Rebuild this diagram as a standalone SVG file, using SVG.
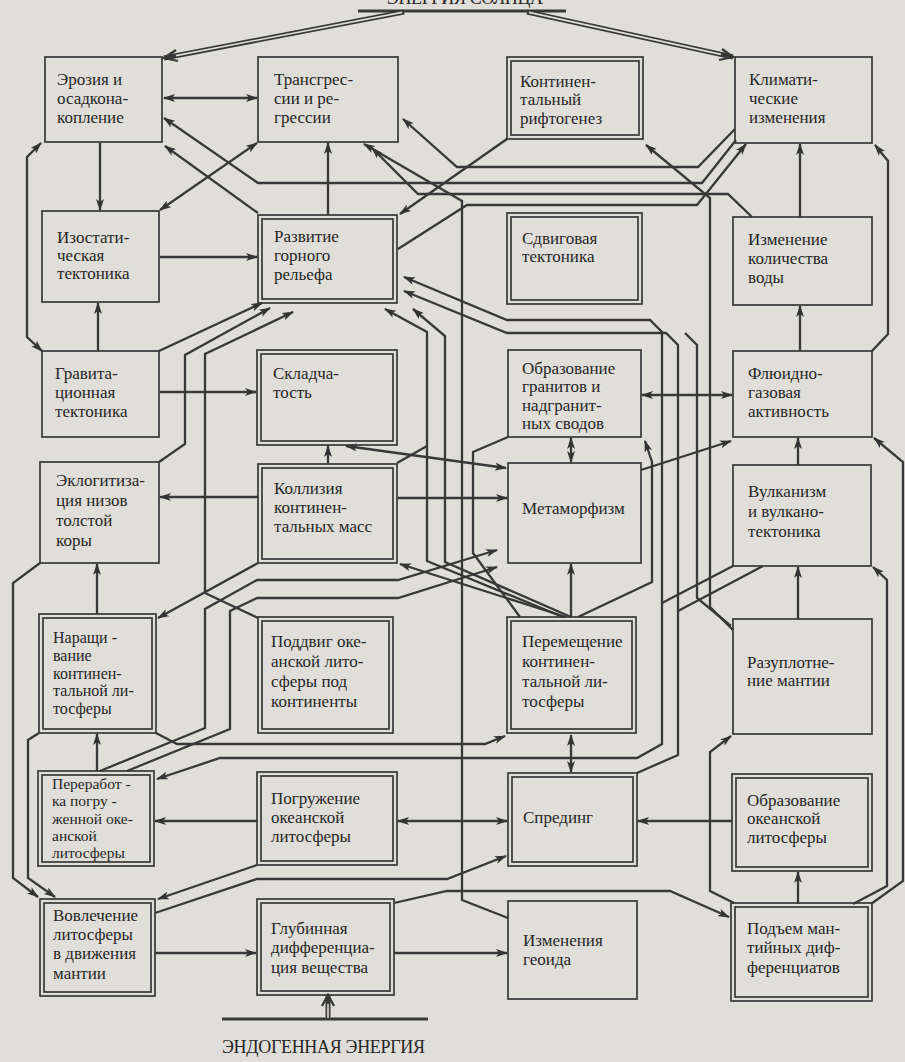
<svg xmlns="http://www.w3.org/2000/svg" width="905" height="1062" viewBox="0 0 905 1062" font-family="'Liberation Serif','DejaVu Serif',serif">
<defs>
<marker id="ah" viewBox="0 0 12 8" refX="11" refY="4" markerWidth="12" markerHeight="8" markerUnits="userSpaceOnUse" orient="auto-start-reverse"><path d="M0,0 L12,4 L0,8 L3,4 z" fill="#333"/></marker>
</defs>
<style>
.bg{fill:#e0ded9}
.bx{fill:none;stroke:#383838;stroke-width:1.7}
.t{font-family:'Liberation Serif','DejaVu Serif',serif;font-size:17px;fill:#262626}
.c{fill:none;stroke:#383838;stroke-width:2.3;stroke-linejoin:miter}
.e{marker-end:url(#ah)}
.s{marker-start:url(#ah)}
.dk{fill:none;stroke:#383838;stroke-width:5}
.dl{fill:none;stroke:#e0ded9;stroke-width:1.6}
.cap{font-family:'Liberation Serif','DejaVu Serif',serif;font-size:18px;fill:#262626}
</style>
<rect class="bg" x="0" y="0" width="905" height="1062"/>

<g id="sun">
<text class="cap" x="387" y="4" textLength="156">ЭНЕРГИЯ СОЛНЦА</text>
<line x1="358" y1="11" x2="566" y2="11" stroke="#383838" stroke-width="3"/>
</g>
<g id="endo">
<line x1="222" y1="1019" x2="428" y2="1019" stroke="#383838" stroke-width="3"/>
<text class="cap" x="222" y="1053" textLength="203">ЭНДОГЕННАЯ ЭНЕРГИЯ</text>
</g>

<g id="connectors">
<path class="dk" d="M404,12 L164,58"/><path class="dl" d="M402,12.4 L176,55.6"/><path class="c" d="M178,61 L164,58 L176,50"/>
<path class="dk" d="M527,12 L733,57"/><path class="dl" d="M529,12.4 L721,54.4"/><path class="c" d="M719,60 L733,57 L722,49"/>
<path class="dk" d="M328,1018 V996"/><path class="dl" d="M328,1018 V1004"/><path class="c" d="M322,1006 L328,995 L334,1006"/>

<path class="c s e" d="M164,98 H257"/>
<path class="c e" d="M100,143 V210"/>
<path class="c s e" d="M160,210 L257,143"/>
<path class="c e" d="M258,213 L165,146"/>
<path class="c e" d="M160,257 H257"/>
<path class="c e" d="M98,351 V303"/>
<path class="c e" d="M160,392 H256"/>
<path class="c s e" d="M42,351 L27,337 V157 L41,143"/>
<path class="c e" d="M328,215 V143"/>
<path class="c e" d="M507,139 L400,214"/>
<path class="c e" d="M736,140 L702,183 H258 L164,118"/>
<path class="c e" d="M735,129 L698,167 H457 L403,119"/>
<path class="c e" d="M752,217 L728,194 H418 L372,148"/>
<path class="c e" d="M508,918 L462,900 V201 L364,144"/>
<path class="c e" d="M398,249 L467,205 H697 L746,144"/>
<path class="c e" d="M733,630 L710,607 V198 L646,145"/>
<path class="c e" d="M800,217 V144"/>
<path class="c e" d="M800,351 V306"/>
<path class="c e" d="M872,351 L888,334 V161 L875,145"/>
<path class="c e" d="M871,904 L903,881 V462 L874,438"/>
<path class="c e" d="M853,904 L887,886 V580 L873,567"/>
<path class="c e" d="M798,465 V438"/>
<path class="c e" d="M798,619 V567"/>
<path class="c e" d="M798,904 V872"/>
<path class="c e" d="M732,821 H638"/>
<path class="c e" d="M734,903 L710,891 V752 L731,736"/>
<path class="c s e" d="M642,395 H732"/>
<path class="c s e" d="M571,438 V462"/>
<path class="c s e" d="M346,446 L506,468"/>
<path class="c e" d="M328,463 V446"/>
<path class="c e" d="M258,497 H160"/>
<path class="c e" d="M398,498 H507"/>
<path class="c" d="M397,463 L427,446"/>
<path class="c e" d="M563,617 L427,561 V332 L385,309"/>
<path class="c e" d="M571,617 L445,562 V336 L413,309"/>
<path class="c e" d="M566,617 L400,564"/>
<path class="c e" d="M578,617 L652,582 V462 L645,441"/>
<path class="c" d="M508,437 L473,452 V553 L520,617"/>
<path class="c e" d="M159,351 L262,303"/>
<path class="c e" d="M159,462 L185,444 V355 L270,308"/>
<path class="c e" d="M258,618 L205,593 V354 L293,312"/>
<path class="c e" d="M641,470 L731,441"/>
<path class="c e" d="M571,617 V564"/>
<path class="c s e" d="M571,772 V735"/>
<path class="c s e" d="M398,821 H507"/>
<path class="c e" d="M257,821 H155"/>
<path class="c e" d="M257,865 L158,899"/>
<path class="c e" d="M155,953 H256"/>
<path class="c e" d="M394,953 H507"/>
<path class="c e" d="M394,903 L447,891 H670 L729,917"/>
<path class="c e" d="M155,913 L257,879 H447 L506,856"/>
<path class="c e" d="M97,771 V734"/>
<path class="c e" d="M97,614 V564"/>
<path class="c e" d="M40,563 L13,583 V878 L38,897"/>
<path class="c e" d="M39,733 L28,740 V878 L55,897"/>
<path class="c e" d="M258,563 L158,618"/>
<path class="c e" d="M156,733 L177,744 H485 L505,736"/>
<path class="c s e" d="M157,779 L220,758 H637 L662,744 V332 L650,320 H507 L404,277"/>
<path class="c" d="M662,603 L733,566"/>
<path class="c e" d="M637,773 L678,755 V345 L666,333 H507 L404,291"/>
<path class="c" d="M678,611 L763,566"/>
<path class="c" d="M731,626 L697,598 V345 L685,333"/>
<path class="c e" d="M100,771 L205,728 V609 L257,580 H398 L497,550"/>
<path class="c e" d="M127,771 L230,729 V611 L257,598 H398 L497,567"/>
</g>

<g id="n1"><rect class="bx" x="45" y="57" width="117" height="85"/><text class="t"><tspan x="57" y="85">Эрозия и</tspan><tspan x="57" y="104">осадкона-</tspan><tspan x="57" y="123">копление</tspan></text></g>
<g id="n2"><rect class="bx" x="258" y="57" width="140" height="85"/><text class="t"><tspan x="274" y="85">Трансгрес-</tspan><tspan x="274" y="104">сии и ре-</tspan><tspan x="274" y="123">грессии</tspan></text></g>
<g id="n3"><rect class="bx" x="507" y="57" width="136" height="82"/><rect class="bx" x="511" y="61" width="128" height="74"/><text class="t"><tspan x="520" y="87">Континен-</tspan><tspan x="520" y="105">тальный</tspan><tspan x="520" y="124">рифтогенез</tspan></text></g>
<g id="n4"><rect class="bx" x="735" y="57" width="137" height="86"/><text class="t"><tspan x="749" y="85">Климати-</tspan><tspan x="749" y="104">ческие</tspan><tspan x="749" y="123">изменения</tspan></text></g>

<g id="n5"><rect class="bx" x="42" y="211" width="117" height="91"/><text class="t"><tspan x="57" y="243">Изостати-</tspan><tspan x="57" y="261">ческая</tspan><tspan x="57" y="279">тектоника</tspan></text></g>
<g id="n6"><rect class="bx" x="258" y="215" width="139" height="88"/><rect class="bx" x="262" y="219" width="131" height="80"/><text class="t"><tspan x="274" y="242">Развитие</tspan><tspan x="274" y="261">горного</tspan><tspan x="274" y="280">рельефа</tspan></text></g>
<g id="n7"><rect class="bx" x="507" y="213" width="135" height="91"/><rect class="bx" x="511" y="217" width="127" height="83"/><text class="t"><tspan x="522" y="244">Сдвиговая</tspan><tspan x="522" y="262">тектоника</tspan></text></g>
<g id="n8"><rect class="bx" x="733" y="217" width="139" height="88"/><text class="t"><tspan x="748" y="245">Изменение</tspan><tspan x="748" y="264">количества</tspan><tspan x="748" y="283">воды</tspan></text></g>

<g id="n9"><rect class="bx" x="42" y="351" width="117" height="86"/><text class="t"><tspan x="55" y="379">Гравита-</tspan><tspan x="55" y="398">ционная</tspan><tspan x="55" y="417">тектоника</tspan></text></g>
<g id="n10"><rect class="bx" x="257" y="350" width="140" height="95"/><rect class="bx" x="261" y="354" width="132" height="87"/><text class="t"><tspan x="273" y="379">Складча-</tspan><tspan x="273" y="398">тость</tspan></text></g>
<g id="n11"><rect class="bx" x="508" y="350" width="133" height="87"/><text class="t"><tspan x="522" y="374">Образование</tspan><tspan x="522" y="392">гранитов и</tspan><tspan x="522" y="411">надгранит-</tspan><tspan x="522" y="429">ных сводов</tspan></text></g>
<g id="n12"><rect class="bx" x="733" y="351" width="139" height="86"/><text class="t"><tspan x="748" y="379">Флюидно-</tspan><tspan x="748" y="398">газовая</tspan><tspan x="748" y="417">активность</tspan></text></g>

<g id="n13"><rect class="bx" x="40" y="462" width="119" height="101"/><text class="t"><tspan x="56" y="486">Эклогитиза-</tspan><tspan x="56" y="506">ция низов</tspan><tspan x="56" y="526">толстой</tspan><tspan x="56" y="546">коры</tspan></text></g>
<g id="n14"><rect class="bx" x="258" y="464" width="139" height="99"/><rect class="bx" x="262" y="468" width="131" height="91"/><text class="t"><tspan x="274" y="494">Коллизия</tspan><tspan x="274" y="513">континен-</tspan><tspan x="274" y="532">тальных масс</tspan></text></g>
<g id="n15"><rect class="bx" x="508" y="463" width="133" height="100"/><text class="t"><tspan x="522" y="514">Метаморфизм</tspan></text></g>
<g id="n16"><rect class="bx" x="733" y="465" width="138" height="101"/><text class="t"><tspan x="748" y="497">Вулканизм</tspan><tspan x="748" y="517">и вулкано-</tspan><tspan x="748" y="537">тектоника</tspan></text></g>

<g id="n17"><rect class="bx" x="39" y="614" width="117" height="119"/><rect class="bx" x="43" y="618" width="109" height="111"/><text class="t" style="font-size:16px"><tspan x="53" y="643">Наращи -</tspan><tspan x="53" y="661">вание</tspan><tspan x="53" y="678.5">континен-</tspan><tspan x="53" y="696">тальной ли-</tspan><tspan x="53" y="713.5">тосферы</tspan></text></g>
<g id="n18"><rect class="bx" x="258" y="617" width="135" height="116"/><rect class="bx" x="262" y="621" width="127" height="108"/><text class="t"><tspan x="271" y="647">Поддвиг оке-</tspan><tspan x="271" y="667">анской лито-</tspan><tspan x="271" y="687">сферы под</tspan><tspan x="271" y="707">континенты</tspan></text></g>
<g id="n19"><rect class="bx" x="507" y="617" width="129" height="116"/><rect class="bx" x="511" y="621" width="121" height="108"/><text class="t"><tspan x="522" y="647">Перемещение</tspan><tspan x="522" y="667">континен-</tspan><tspan x="522" y="687">тальной ли-</tspan><tspan x="522" y="707">тосферы</tspan></text></g>
<g id="n20"><rect class="bx" x="733" y="619" width="139" height="115"/><text class="t"><tspan x="747" y="668">Разуплотне-</tspan><tspan x="747" y="686">ние мантии</tspan></text></g>

<g id="n21"><rect class="bx" x="38" y="771" width="116" height="95"/><rect class="bx" x="42" y="775" width="108" height="87"/><text class="t" style="font-size:15.5px"><tspan x="52" y="789">Переработ -</tspan><tspan x="52" y="806">ка погру -</tspan><tspan x="52" y="823.5">женной оке-</tspan><tspan x="52" y="841">анской</tspan><tspan x="52" y="858">литосферы</tspan></text></g>
<g id="n22"><rect class="bx" x="257" y="772" width="140" height="93"/><rect class="bx" x="261" y="776" width="132" height="85"/><text class="t"><tspan x="271" y="804">Погружение</tspan><tspan x="271" y="823">океанской</tspan><tspan x="271" y="842">литосферы</tspan></text></g>
<g id="n23"><rect class="bx" x="508" y="773" width="129" height="93"/><rect class="bx" x="512" y="777" width="121" height="85"/><text class="t"><tspan x="523" y="823">Спрединг</tspan></text></g>
<g id="n24"><rect class="bx" x="732" y="774" width="140" height="97"/><rect class="bx" x="736" y="778" width="132" height="89"/><text class="t"><tspan x="747" y="806">Образование</tspan><tspan x="747" y="824">океанской</tspan><tspan x="747" y="843">литосферы</tspan></text></g>

<g id="n25"><rect class="bx" x="40" y="899" width="115" height="97"/><rect class="bx" x="44" y="903" width="107" height="89"/><text class="t"><tspan x="53" y="921">Вовлечение</tspan><tspan x="53" y="940">литосферы</tspan><tspan x="53" y="959">в движения</tspan><tspan x="53" y="979">мантии</tspan></text></g>
<g id="n26"><rect class="bx" x="257" y="899" width="137" height="96"/><rect class="bx" x="261" y="903" width="129" height="88"/><text class="t"><tspan x="271" y="934">Глубинная</tspan><tspan x="271" y="953">дифференциа-</tspan><tspan x="271" y="973">ция вещества</tspan></text></g>
<g id="n27"><rect class="bx" x="508" y="901" width="129" height="98"/><text class="t"><tspan x="523" y="946">Изменения</tspan><tspan x="523" y="965">геоида</tspan></text></g>
<g id="n28"><rect class="bx" x="731" y="903" width="141" height="98"/><rect class="bx" x="735" y="907" width="133" height="90"/><text class="t"><tspan x="747" y="934">Подъем ман-</tspan><tspan x="747" y="953">тийных диф-</tspan><tspan x="747" y="973">ференциатов</tspan></text></g>
</svg>
